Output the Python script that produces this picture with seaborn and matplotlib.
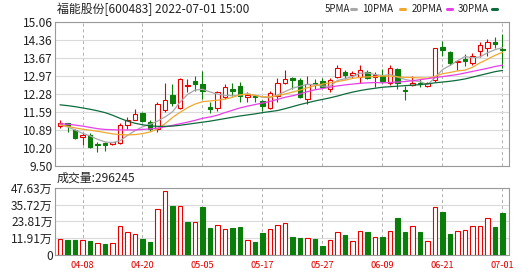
import numpy as np
import pandas as pd
import matplotlib
matplotlib.use("Agg")
import matplotlib.pyplot as plt
from matplotlib.lines import Line2D
import seaborn as sns

# ---------------- data ----------------
title_text = "福能股份[600483] 2022-07-01 15:00"
dates = ["04-01", "04-06", "04-07", "04-08", "04-11", "04-12", "04-13", "04-14", "04-15",
         "04-18", "04-19", "04-20", "04-21", "04-22", "04-25", "04-26", "04-27", "04-28", "04-29",
         "05-05", "05-06", "05-09", "05-10", "05-11", "05-12", "05-13", "05-16", "05-17",
         "05-18", "05-19", "05-20", "05-23", "05-24", "05-25", "05-26", "05-27", "05-30", "05-31",
         "06-01", "06-02", "06-06", "06-07", "06-08", "06-09", "06-10", "06-13", "06-14", "06-15",
         "06-16", "06-17", "06-20", "06-21", "06-22", "06-23", "06-24", "06-27", "06-28", "06-29",
         "06-30", "07-01"]
tick_labels = ["04-08", "04-20", "05-05", "05-17", "05-27", "06-09", "06-21", "07-01"]

opens = [11.04, 11.13, 10.87, 10.60, 10.69, 10.33, 10.37, 10.35, 10.36, 11.07,
         11.28, 11.53, 11.19, 10.91, 11.64, 12.22, 11.73, 12.58, 12.78, 12.67,
         11.77, 11.73, 12.14, 12.46, 12.59, 12.14, 12.20, 11.99, 11.73, 12.18,
         12.69, 12.87, 12.80, 12.08, 12.71, 12.78, 12.46, 12.93, 13.10, 13.00,
         12.93, 13.11, 12.94, 12.97, 12.71, 13.22, 12.44, 12.63, 12.70, 12.59,
         12.80, 14.10, 13.89, 13.50, 13.61, 13.47, 13.92, 14.06, 14.27, 14.01]
highs = [11.25, 11.15, 10.90, 10.79, 10.75, 10.41, 10.43, 10.43, 11.15, 11.38,
         11.70, 11.58, 11.25, 11.95, 12.71, 12.65, 12.90, 12.83, 12.97, 13.15,
         11.95, 12.40, 12.65, 12.69, 12.72, 12.33, 12.22, 12.05, 12.40, 12.90,
         13.18, 12.94, 12.90, 12.97, 12.84, 12.90, 12.90, 13.37, 13.18, 13.15,
         13.37, 13.20, 13.12, 13.24, 13.37, 13.28, 12.56, 12.97, 12.84, 12.75,
         14.04, 14.30, 13.92, 13.60, 13.80, 13.86, 14.27, 14.38, 14.46, 14.59]
lows = [10.96, 10.81, 10.52, 10.30, 10.20, 10.03, 10.05, 10.30, 10.32, 10.91,
        11.25, 11.18, 10.85, 10.81, 11.57, 11.82, 11.68, 12.33, 12.40, 12.07,
        11.53, 11.63, 12.07, 12.20, 11.95, 11.95, 11.95, 11.60, 11.67, 11.95,
        12.65, 12.47, 12.10, 11.88, 12.46, 12.50, 12.33, 12.90, 12.84, 12.90,
        12.70, 12.84, 12.55, 12.71, 12.63, 12.46, 12.05, 12.59, 12.55, 12.55,
        12.75, 13.73, 13.37, 13.20, 13.35, 13.37, 13.69, 13.73, 14.06, 13.28]
closes = [11.15, 11.04, 10.56, 10.68, 10.24, 10.30, 10.29, 10.40, 11.07, 11.28,
          11.51, 11.22, 10.90, 11.89, 12.02, 11.94, 12.83, 12.62, 12.66, 12.37,
          11.70, 12.33, 12.52, 12.37, 12.20, 12.22, 12.14, 11.80, 12.30, 12.71,
          12.84, 12.81, 12.17, 12.67, 12.65, 12.55, 12.80, 13.28, 13.00, 13.07,
          13.18, 12.87, 13.00, 12.78, 13.28, 12.71, 12.40, 12.71, 12.64, 12.71,
          14.04, 13.97, 13.47, 13.55, 13.56, 13.75, 14.16, 14.27, 14.18, 13.95]

ma5 = [11.10, 11.00, 10.88, 10.75, 10.65, 10.52, 10.42, 10.39, 10.46, 10.67,
       10.85, 11.00, 11.10, 11.22, 11.38, 11.58, 11.95, 12.25, 12.42, 12.45,
       12.35, 12.26, 12.22, 12.20, 12.22, 12.28, 12.22, 12.14, 12.13, 12.23,
       12.36, 12.49, 12.57, 12.64, 12.63, 12.57, 12.57, 12.79, 12.86, 12.94,
       13.07, 13.08, 13.02, 12.98, 13.02, 12.93, 12.83, 12.78, 12.75, 12.63,
       12.90, 13.21, 13.37, 13.55, 13.72, 13.66, 13.70, 13.86, 13.98, 14.06]
ma10 = [11.08, 11.02, 10.96, 10.91, 10.87, 10.83, 10.78, 10.73, 10.70, 10.69,
        10.70, 10.74, 10.80, 10.92, 11.12, 11.36, 11.56, 11.74, 11.88, 11.97,
        12.00, 12.03, 12.07, 12.14, 12.24, 12.26, 12.22, 12.16, 12.16, 12.20,
        12.27, 12.34, 12.42, 12.51, 12.59, 12.65, 12.70, 12.75, 12.80, 12.87,
        12.91, 12.93, 12.94, 12.96, 12.96, 12.93, 12.91, 12.90, 12.89, 12.88,
        12.95, 13.05, 13.10, 13.16, 13.19, 13.30, 13.47, 13.61, 13.76, 13.88]
ma20 = [11.12, 11.10, 11.07, 11.03, 10.98, 10.93, 10.90, 10.89, 10.88, 10.88,
        10.88, 10.90, 10.92, 10.95, 11.00, 11.06, 11.12, 11.18, 11.25, 11.33,
        11.38, 11.45, 11.55, 11.64, 11.73, 11.80, 11.86, 11.92, 11.98, 12.06,
        12.14, 12.20, 12.27, 12.36, 12.43, 12.48, 12.53, 12.58, 12.62, 12.65,
        12.68, 12.70, 12.71, 12.70, 12.71, 12.73, 12.75, 12.78, 12.82, 12.86,
        12.90, 12.94, 12.98, 13.02, 13.08, 13.14, 13.20, 13.26, 13.33, 13.38]
ma30 = [11.85, 11.82, 11.78, 11.73, 11.68, 11.62, 11.55, 11.45, 11.33, 11.22,
        11.14, 11.08, 11.04, 11.02, 11.02, 11.03, 11.06, 11.10, 11.14, 11.18,
        11.22, 11.27, 11.32, 11.37, 11.42, 11.46, 11.50, 11.55, 11.59, 11.63,
        11.70, 11.78, 11.86, 11.93, 12.00, 12.06, 12.12, 12.19, 12.27, 12.34,
        12.40, 12.45, 12.49, 12.53, 12.55, 12.57, 12.59, 12.61, 12.63, 12.66,
        12.70, 12.73, 12.76, 12.80, 12.85, 12.92, 12.99, 13.06, 13.13, 13.18]

# volume in units of 万
volume_wan = [11.3, 10.6, 10.6, 10.4, 9.7, 8.3, 7.6, 8.3, 20.3, 16.1,
              14.6, 11.3, 9.2, 32.6, 45.1, 34.7, 34.5, 23.6, 23.4, 34.0,
              19.3, 21.2, 18.6, 18.9, 20.0, 10.6, 9.4, 15.8, 18.6, 21.2,
              22.6, 13.0, 12.2, 12.2, 11.3, 6.6, 10.6, 16.1, 14.2, 9.9,
              17.0, 16.3, 12.7, 12.7, 17.0, 26.4, 16.3, 20.5, 16.3, 9.9,
              34.0, 30.4, 14.9, 17.0, 17.7, 20.5, 20.5, 26.4, 20.0, 29.6245]
last_volume = 296245

price_ticks = [9.50, 10.20, 10.89, 11.59, 12.28, 12.97, 13.67, 14.36, 15.06]
vol_ticks = [0, 11.91, 23.81, 35.72, 47.63]

ma_names = ["5PMA", "10PMA", "20PMA", "30PMA"]
ma_colors = ["#a8a8a8", "#f0a830", "#e83ee8", "#0d6b3c"]

# ---------------- styling ----------------
sns.set_theme(style="white")
plt.rcParams["font.family"] = ["Noto Sans CJK SC", "DejaVu Sans"]

RED = "#e60000"
GREEN = "#0a7d0a"
FRAME = "#9a9a9a"
HGRID = "#dadada"
VGRID = "#b0b0b0"
TXT = "#222222"

W, H = 530, 276
fig = plt.figure(figsize=(W / 100, H / 100), dpi=100)
fig.patch.set_facecolor("white")

x0, x1 = 55, 509
ax = fig.add_axes([x0 / W, 1 - 165.7 / H, (x1 - x0) / W, (165.7 - 21.7) / H])
axv = fig.add_axes([x0 / W, 1 - 255 / H, (x1 - x0) / W, (255 - 187.7) / H])

df = pd.DataFrame({"date": dates, "open": opens, "high": highs, "low": lows,
                   "close": closes, "vol": volume_wan,
                   "ma5": ma5, "ma10": ma10, "ma20": ma20, "ma30": ma30})
df["i"] = np.arange(len(df))
up = df["close"] >= df["open"]
cndl_col = np.where(up, RED, GREEN)
chg = df["close"].diff().fillna(1.0)
vol_up = chg >= 0
vol_col = np.where(vol_up, RED, GREEN)

tick_pos = [dates.index(t) for t in tick_labels]
xlim = (-0.667, 59.87)

# ---------------- price panel ----------------
for p in tick_pos:
    ax.axvline(p, color=VGRID, lw=0.7, ls=(0, (3, 3)), zorder=0)
ax.set_yticks(price_ticks)
ax.yaxis.grid(True, color=HGRID, lw=0.8, ls="-", zorder=0)
ax.set_axisbelow(True)

ax.vlines(df["i"], df["low"], df["high"], colors=cndl_col, lw=0.8, zorder=2)
body_low = np.minimum(df["open"], df["close"])
body_h = np.maximum(np.abs(df["close"] - df["open"]), 0.025)
ax.bar(df["i"], body_h, bottom=body_low, width=0.62,
       color=np.where(up, "white", GREEN), edgecolor=cndl_col, linewidth=0.8, zorder=3)

for name, col, c in zip(ma_names, ma_colors, ["ma5", "ma10", "ma20", "ma30"]):
    sns.lineplot(data=df, x="i", y=c, color=col, lw=0.9, ax=ax, zorder=4)

ax.set_xlim(*xlim)
ax.set_ylim(price_ticks[0], price_ticks[-1])
ax.set_yticklabels([f"{v:.2f}" for v in price_ticks], fontsize=8.6, color=TXT)
ax.set_xticks(tick_pos)
ax.set_xticklabels([])
ax.tick_params(axis="both", length=0, pad=1.6)
ax.set_xlabel("")
ax.set_ylabel("")
for s in ax.spines.values():
    s.set_color(FRAME)
    s.set_linewidth(0.8)

# ---------------- volume panel ----------------
sns.barplot(data=df, x="i", y="vol", ax=axv, width=0.66, color=RED, zorder=3)
for patch, vc, vu in zip(axv.patches, vol_col, vol_up):
    patch.set_facecolor("white" if vu else GREEN)
    patch.set_edgecolor(vc)
    patch.set_linewidth(0.8)
for p in tick_pos:
    axv.axvline(p, color=VGRID, lw=0.7, ls=(0, (3, 3)), zorder=0)
axv.set_yticks(vol_ticks)
axv.yaxis.grid(True, color=HGRID, lw=0.8, ls="-", zorder=0)
axv.set_axisbelow(True)
axv.set_xlim(*xlim)
axv.set_ylim(vol_ticks[0], vol_ticks[-1])
axv.set_yticklabels(["0"] + [f"{v:.2f}万" for v in vol_ticks[1:]], fontsize=8.6, color=TXT)
axv.set_xticks(tick_pos)
axv.set_xticklabels(tick_labels, fontsize=6.6, color=RED)
axv.tick_params(axis="y", length=0, pad=1.6)
axv.tick_params(axis="x", length=0, pad=4.0)
axv.set_xlabel("")
axv.set_ylabel("")
for s in axv.spines.values():
    s.set_color(FRAME)
    s.set_linewidth(0.8)

# ---------------- texts ----------------
fig.text(57 / W, 1 - 9 / H, title_text, fontsize=8.6, color=TXT, ha="left", va="center")
fig.text(57 / W, 1 - 177.7 / H, f"成交量:{last_volume}", fontsize=8.6, color=TXT,
         ha="left", va="center")

leg_text_x = [325, 362, 412, 458]
leg_dash_x = [(351, 356), (400, 405), (447, 452), (492, 497)]
for name, col, tx, (d0, d1) in zip(ma_names, ma_colors, leg_text_x, leg_dash_x):
    fig.text(tx / W, 1 - 9 / H, name, fontsize=7, color=TXT, ha="left", va="center")
    fig.add_artist(Line2D([d0 / W, d1 / W], [1 - 9.3 / H, 1 - 9.3 / H],
                          color=col, lw=2.2, transform=fig.transFigure))

fig.savefig("out.png", dpi=100, facecolor="white")
